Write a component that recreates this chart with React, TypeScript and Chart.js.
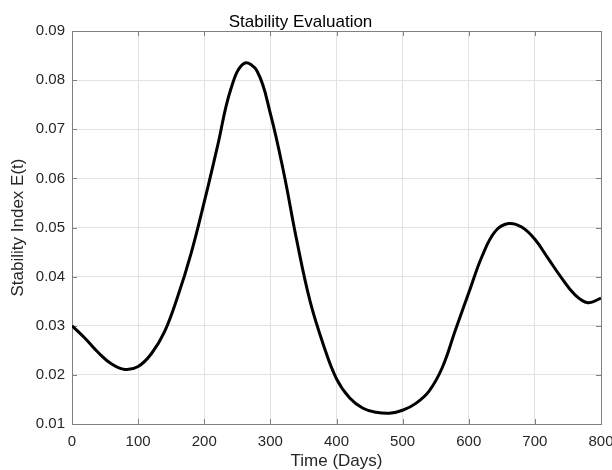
import React, { useEffect, useRef } from "react";
import { Chart, registerables } from "chart.js";

Chart.register(...registerables);

const timeDays = [
  0, 20, 40, 60, 80, 100, 120, 140, 160, 180, 200, 220, 240, 260, 280, 300,
  320, 340, 360, 380, 400, 420, 440, 460, 480, 500, 520, 540, 560, 580, 600,
  620, 640, 660, 680, 700, 720, 740, 760, 780, 800,
];
const stabilityIndex = [
  0.03, 0.0274, 0.0245, 0.0222, 0.0211, 0.0217, 0.0243, 0.0288, 0.036,
  0.0447, 0.0552, 0.0665, 0.0781, 0.0834, 0.0818, 0.0732, 0.0613, 0.0473,
  0.035, 0.0262, 0.0192, 0.0153, 0.0132, 0.0124, 0.0122, 0.0128, 0.0142,
  0.0167, 0.0215, 0.0292, 0.0367, 0.0441, 0.0492, 0.0508, 0.0501, 0.0476,
  0.0437, 0.0398, 0.0364, 0.0347, 0.0356,
];
const xTicks = [0, 100, 200, 300, 400, 500, 600, 700, 800];
const yTicks = [0.01, 0.02, 0.03, 0.04, 0.05, 0.06, 0.07, 0.08, 0.09];
const chartTitle = "Stability Evaluation";
const xLabel = "Time (Days)";
const yLabel = "Stability Index E(t)";

const FONT = "'Liberation Sans', Arial, Helvetica, sans-serif";
const AXIS_COLOR = "#808080";

const boxPlugin = {
  id: "matlabBox",
  beforeDatasetsDraw(chart: any) {
    const { ctx, chartArea, scales } = chart;
    const { left, right, top, bottom } = chartArea;
    const x = scales.x;
    const y = scales.y;
    const tl = 5;
    ctx.save();
    ctx.strokeStyle = AXIS_COLOR;
    ctx.lineWidth = 1;
    ctx.beginPath();
    for (const v of xTicks) {
      const px = Math.round(x.getPixelForValue(v)) + 0.5;
      ctx.moveTo(px, bottom);
      ctx.lineTo(px, bottom - tl);
      ctx.moveTo(px, top);
      ctx.lineTo(px, top + tl);
    }
    for (const v of yTicks) {
      const py = Math.round(y.getPixelForValue(v)) + 0.5;
      ctx.moveTo(left, py);
      ctx.lineTo(left + tl, py);
      ctx.moveTo(right, py);
      ctx.lineTo(right - tl, py);
    }
    ctx.stroke();
    ctx.strokeRect(
      Math.round(left) + 0.5,
      Math.round(top) + 0.5,
      Math.round(right) - Math.round(left),
      Math.round(bottom) - Math.round(top)
    );
    ctx.restore();
  },
};

export default function App() {
  const canvasRef = useRef<HTMLCanvasElement | null>(null);

  useEffect(() => {
    if (!canvasRef.current) return;
    const points = timeDays.map((t, i) => ({ x: t, y: stabilityIndex[i] }));
    const chart = new Chart(canvasRef.current, {
      type: "line",
      data: {
        datasets: [
          {
            data: points,
            borderColor: "#000000",
            borderWidth: 3,
            pointRadius: 0,
            fill: false,
            tension: 0.4,
          },
        ],
      },
      options: {
        animation: false,
        responsive: true,
        maintainAspectRatio: false,
        layout: { padding: { left: 0, right: 11, top: 0, bottom: 0 } },
        plugins: {
          legend: { display: false },
          tooltip: { enabled: false },
          title: {
            display: true,
            text: chartTitle,
            color: "#000000",
            font: { family: FONT, size: 17, weight: "normal", lineHeight: 1 },
            padding: { top: 13.5, bottom: 0.5 },
          },
        },
        scales: {
          x: {
            type: "linear",
            min: 0,
            max: 800,
            border: { display: false },
            grid: { color: "#e2e2e2", lineWidth: 1, drawTicks: false },
            ticks: {
              stepSize: 100,
              padding: 8.5,
              color: "#262626",
              maxRotation: 0,
              font: { family: FONT, size: 15 },
            },
            title: {
              display: true,
              text: xLabel,
              color: "#262626",
              font: { family: FONT, size: 17, lineHeight: 1 },
              padding: { top: 0, bottom: 0 },
            },
            afterFit(scale: any) {
              scale.height = 46;
              scale.paddingLeft = 0;
              scale.paddingRight = 0;
            },
          },
          y: {
            type: "linear",
            min: 0.01,
            max: 0.09,
            border: { display: false },
            grid: { color: "#e2e2e2", lineWidth: 1, drawTicks: false },
            ticks: {
              stepSize: 0.01,
              padding: 7,
              color: "#262626",
              font: { family: FONT, size: 15 },
              callback: (v: any) => Number(v).toFixed(2),
            },
            title: {
              display: true,
              text: yLabel,
              color: "#262626",
              font: { family: FONT, size: 17, lineHeight: 1 },
              padding: { top: 9.5, bottom: 0 },
            },
            afterFit(scale: any) {
              scale.width = 72;
              scale.paddingTop = 0;
              scale.paddingBottom = 0;
            },
          },
        },
      },
      plugins: [boxPlugin],
    });
    return () => chart.destroy();
  }, []);

  return (
    <div
      style={{
        position: "absolute",
        left: 0,
        top: 0,
        width: 612,
        height: 470,
        background: "#ffffff",
      }}
    >
      <canvas ref={canvasRef} />
    </div>
  );
}
